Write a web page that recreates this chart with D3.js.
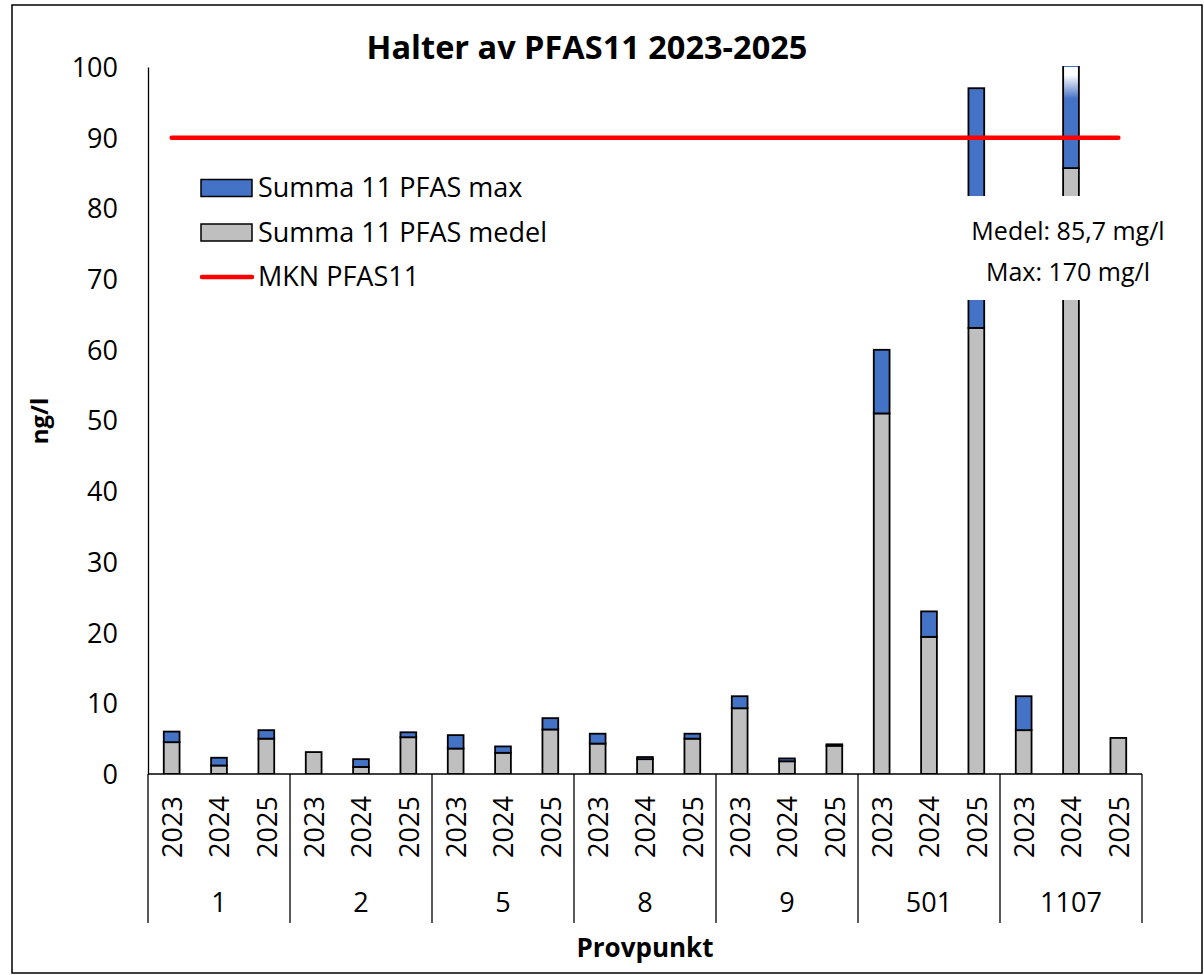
<!DOCTYPE html>
<html>
<head>
<meta charset="utf-8">
<script src="https://cdn.jsdelivr.net/npm/d3@7"></script>
<style>
  html, body { margin: 0; padding: 0; background: #fff; }
  svg text { font-family: "Open Sans", "Lato", sans-serif; fill: #000; }
</style>
</head>
<body>
<svg id="chart" width="1204" height="975"></svg>
<script>
// Sampling points (Provpunkt) and years per point
const groups = ["1", "2", "5", "8", "9", "501", "1107"];
const years = ["2023", "2024", "2025"];
// Sum of 11 PFAS, mean per point/year (ng/l)
const medel = [4.5, 1.2, 5.0, 3.1, 1.0, 5.2, 3.6, 3.0, 6.3, 4.3, 2.1, 5.0,
               9.3, 1.8, 4.0, 51.0, 19.4, 63.1, 6.2, 85.7, 5.1];
// Sum of 11 PFAS, max per point/year (ng/l)
const maxv = [6.0, 2.3, 6.2, 3.1, 2.1, 5.9, 5.5, 3.9, 7.9, 5.7, 2.4, 5.7,
              11.0, 2.2, 4.2, 60.0, 23.0, 97.0, 11.0, 170, 5.1];
// Environmental quality standard (MKN) for PFAS11
const mkn = 90;
const yTicks = [0, 10, 20, 30, 40, 50, 60, 70, 80, 90, 100];

const svg = d3.select("#chart");
const plot = { left: 148, right: 1142, top: 67, bottom: 774 };

const keys = [];
groups.forEach(g => years.forEach(y => keys.push(g + "|" + y)));

const x = d3.scaleBand().domain(keys).range([plot.left, plot.right]).paddingInner(2 / 3).paddingOuter(1 / 3);
const y = d3.scaleLinear().domain([0, 100]).range([plot.bottom, plot.top]);

// Outer frame
svg.append("rect").attr("x", 12).attr("y", 5).attr("width", 1190).attr("height", 968)
  .attr("fill", "#fff").attr("stroke", "#000").attr("stroke-width", 1.5);

const defs = svg.append("defs");
defs.append("clipPath").attr("id", "plotclip").append("rect")
  .attr("x", plot.left).attr("y", plot.top - 1).attr("width", plot.right - plot.left).attr("height", plot.bottom - plot.top + 1);
const fade = defs.append("linearGradient").attr("id", "fade").attr("x1", 0).attr("y1", 0).attr("x2", 0).attr("y2", 1);
fade.append("stop").attr("offset", "0%").attr("stop-color", "#fff");
fade.append("stop").attr("offset", "25%").attr("stop-color", "#fff");
fade.append("stop").attr("offset", "100%").attr("stop-color", "#4472C4");

// Title
svg.append("text").attr("x", 587).attr("y", 59).attr("text-anchor", "middle")
  .style("font-weight", "bold").style("font-size", "32.5px").text("Halter av PFAS11 2023-2025");

// Y axis
const yAxis = d3.axisLeft(y).tickValues(yTicks).tickSize(0).tickPadding(30);
const gy = svg.append("g").attr("transform", `translate(${plot.left},0)`).call(yAxis);
gy.select(".domain").attr("stroke", "#000").attr("stroke-width", 1.3);
gy.selectAll("text").style("font-size", "27px").style("font-family", "Open Sans").attr("dy", "0.35em");

svg.append("text").attr("transform", `translate(48,421) rotate(-90)`).attr("text-anchor", "middle")
  .style("font-weight", "bold").style("font-size", "24px").text("ng/l");

// Bars
const bars = svg.append("g").attr("clip-path", "url(#plotclip)");
const data = keys.map((k, i) => ({ key: k, medel: medel[i], max: maxv[i] }));

bars.selectAll("rect.medel").data(data).join("rect").attr("class", "medel")
  .attr("x", d => x(d.key)).attr("width", x.bandwidth())
  .attr("y", d => y(d.medel)).attr("height", d => y(0) - y(d.medel))
  .attr("fill", "#BFBFBF").attr("stroke", "#000").attr("stroke-width", 1.8);

bars.selectAll("rect.max").data(data.filter(d => d.max > d.medel)).join("rect").attr("class", "max")
  .attr("x", d => x(d.key)).attr("width", x.bandwidth())
  .attr("y", d => y(Math.min(d.max, 101))).attr("height", d => y(d.medel) - y(Math.min(d.max, 101)))
  .attr("fill", "#4472C4").attr("stroke", "#000").attr("stroke-width", 1.8);

// Fade-out cap where a bar runs past the top of the scale
bars.selectAll("rect.cap").data(data.filter(d => d.max > 100)).join("rect").attr("class", "cap")
  .attr("x", d => x(d.key) + 1).attr("width", x.bandwidth() - 2)
  .attr("y", y(100)).attr("height", y(95.5) - y(100))
  .attr("fill", "url(#fade)");

// MKN line
const first = keys[0], last = keys[keys.length - 1];
svg.append("line")
  .attr("x1", x(first) + x.bandwidth() / 2).attr("x2", x(last) + x.bandwidth() / 2)
  .attr("y1", y(mkn)).attr("y2", y(mkn))
  .attr("stroke", "#FF0000").attr("stroke-width", 4.5).attr("stroke-linecap", "round");

// X axis: baseline, group separators and labels
svg.append("line").attr("x1", plot.left).attr("x2", plot.right).attr("y1", y(0)).attr("y2", y(0))
  .attr("stroke", "#000").attr("stroke-width", 1.3);

const groupX = d3.scaleBand().domain(groups).range([plot.left, plot.right]);
const seps = groups.map(g => groupX(g)).concat([plot.right]);
svg.selectAll("line.sep").data(seps).join("line").attr("class", "sep")
  .attr("x1", d => d).attr("x2", d => d).attr("y1", y(0)).attr("y2", 923)
  .attr("stroke", "#000").attr("stroke-width", 1.3);

svg.selectAll("text.year").data(data).join("text").attr("class", "year")
  .attr("transform", d => `translate(${x(d.key) + x.bandwidth() / 2 + 1},827) rotate(-90)`)
  .attr("text-anchor", "middle").attr("dy", "0.35em")
  .style("font-size", "27px").text(d => d.key.split("|")[1]);

svg.selectAll("text.grp").data(groups).join("text").attr("class", "grp")
  .attr("x", d => groupX(d) + groupX.bandwidth() / 2).attr("y", 903).attr("dy", "0.35em")
  .attr("text-anchor", "middle").style("font-size", "27px").text(d => d);

svg.append("text").attr("x", 645).attr("y", 957).attr("text-anchor", "middle")
  .style("font-weight", "bold").style("font-size", "26px").text("Provpunkt");

// Annotation for the bar that runs off the scale
svg.append("rect").attr("x", 945).attr("y", 196).attr("width", 240).attr("height", 104).attr("fill", "#fff");
svg.append("text").attr("x", 1068).attr("y", 231).attr("dy", "0.35em").attr("text-anchor", "middle")
  .style("font-size", "25px").text("Medel: 85,7 mg/l");
svg.append("text").attr("x", 1068).attr("y", 272).attr("dy", "0.35em").attr("text-anchor", "middle")
  .style("font-size", "25px").text("Max: 170 mg/l");

// Legend
const legend = svg.append("g");
const items = [
  { label: "Summa 11 PFAS max", type: "rect", fill: "#4472C4" },
  { label: "Summa 11 PFAS medel", type: "rect", fill: "#BFBFBF" },
  { label: "MKN PFAS11", type: "line", fill: "#FF0000" }
];
items.forEach((it, i) => {
  const cy = 188 + i * 44.5;
  if (it.type === "rect") {
    legend.append("rect").attr("x", 201).attr("y", cy - 8.5).attr("width", 51).attr("height", 17)
      .attr("fill", it.fill).attr("stroke", "#000").attr("stroke-width", 1.5);
  } else {
    legend.append("line").attr("x1", 202).attr("x2", 252).attr("y1", cy).attr("y2", cy)
      .attr("stroke", it.fill).attr("stroke-width", 4.5).attr("stroke-linecap", "round");
  }
  legend.append("text").attr("x", 258).attr("y", cy).attr("dy", "0.35em")
    .style("font-size", "27px").text(it.label);
});
</script>
</body>
</html>
